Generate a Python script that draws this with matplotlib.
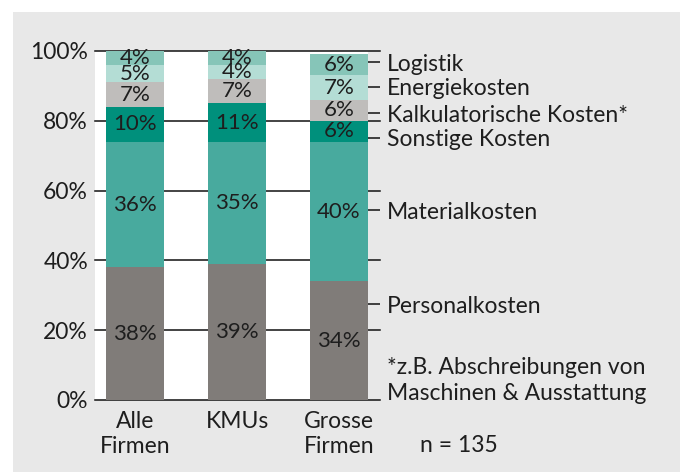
import matplotlib
matplotlib.use("Agg")
import matplotlib.pyplot as plt
from matplotlib.patches import Rectangle

plt.rcParams['font.family'] = ['Lato', 'DejaVu Sans']

categories = ["Alle\nFirmen", "KMUs", "Grosse\nFirmen"]
series_names = ["Personalkosten", "Materialkosten", "Sonstige Kosten",
                "Kalkulatorische Kosten*", "Energiekosten", "Logistik"]
personal = [38, 39, 34]
material = [36, 35, 40]
sonstige = [10, 11, 6]
kalk = [7, 7, 6]
energie = [5, 4, 7]
logistik = [4, 4, 6]
values = [personal, material, sonstige, kalk, energie, logistik]
colors = ["#807c79", "#48aa9e", "#00907c", "#bfbdbb", "#b4ddd5", "#86c5b8"]
yticks = [0, 20, 40, 60, 80, 100]
label_pos = [27.5, 54.3, 75.1, 82.2, 89.7, 96.8]

W, H = 684, 472
fig = plt.figure(figsize=(W / 100, H / 100), dpi=100)
fig.patch.set_facecolor("white")
fig.add_artist(Rectangle((13 / W, 0), (680 - 13) / W, (H - 12) / H,
                         transform=fig.transFigure, facecolor="#e8e8e8",
                         edgecolor="none", zorder=0))

ax = fig.add_axes([95 / W, (H - 400) / H, 273 / W, 349 / H])
ax.set_facecolor("white")
ax.set_zorder(1)
txt = "#1e1e1e"
fs = 16.5

x = list(range(len(categories)))
bw = 0.569
for yv in yticks:
    ax.plot([0, 1.044], [yv, yv], transform=ax.get_yaxis_transform(),
            color="#111111", lw=1.1, clip_on=False, zorder=1)

bottom = [0, 0, 0]
for vals, col in zip(values, colors):
    ax.bar(x, vals, bw, bottom=bottom, color=col, edgecolor="none", zorder=2)
    for i, v in enumerate(vals):
        ax.text(x[i], bottom[i] + v / 2, f"{v}%", ha="center", va="center",
                fontsize=16, color=txt, zorder=3)
    bottom = [b + v for b, v in zip(bottom, vals)]

ax.set_xlim(-0.392, 2.284)
ax.set_ylim(0, 100)
for s in ax.spines.values():
    s.set_visible(False)
ax.set_yticks(yticks, [f"{t}%" for t in yticks])
ax.tick_params(axis="y", length=0, pad=5, labelsize=fs, labelcolor=txt)
ax.set_xticks(x, categories)
ax.tick_params(axis="x", length=0, pad=8, labelsize=fs, labelcolor=txt)
for lab in ax.get_xticklabels():
    lab.set_linespacing(1.2)

ax2 = ax.twinx()
ax2.set_ylim(0, 100)
for s in ax2.spines.values():
    s.set_visible(False)
ax2.set_yticks(label_pos, series_names)
ax2.tick_params(axis="y", length=8.5, width=1.1, color="#111111", pad=5,
                labelsize=fs, labelcolor=txt)

fig.text(387 / W, 1 - 368 / H, "*z.B. Abschreibungen von", fontsize=fs,
         color=txt, va="center", ha="left")
fig.text(387 / W, 1 - 394 / H, "Maschinen & Ausstattung", fontsize=fs,
         color=txt, va="center", ha="left")
fig.text(420 / W, 1 - 445 / H, "n = 135", fontsize=fs, color=txt,
         va="center", ha="left")

fig.savefig("out.png", dpi=100, facecolor=fig.get_facecolor())
